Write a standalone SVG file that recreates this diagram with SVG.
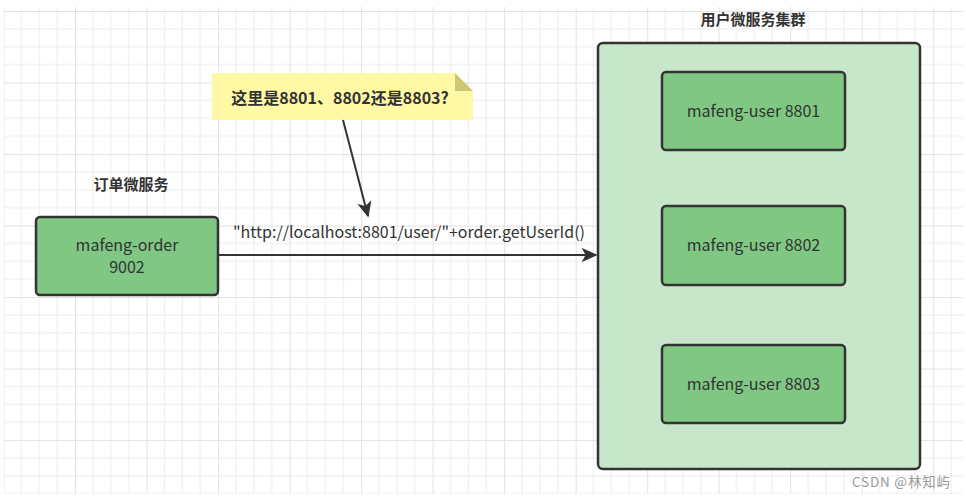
<svg xmlns="http://www.w3.org/2000/svg" width="966" height="499" viewBox="0 0 966 499">
<style>
.t{font-family:"Microsoft YaHei","Noto Sans CJK SC","Noto Sans",sans-serif;fill:#333;}
.node{fill:#7fc783;stroke:#333;stroke-width:2.5;}
.title{font-size:15px;font-weight:bold;text-anchor:middle;}
.lbl{font-size:16px;text-anchor:middle;}
.edge{stroke:#333;stroke-width:2;fill:none;}
</style>
<defs>
<pattern id="g" x="3.5" y="11" width="71.52" height="71.52" patternUnits="userSpaceOnUse">
<path d="M17.88 0V71.52M35.76 0V71.52M53.64 0V71.52M0 17.88H71.52M0 35.76H71.52M0 53.64H71.52" stroke="#ececec" stroke-width="1" fill="none"/>
<path d="M0.5 0V71.52M0 0.5H71.52" stroke="#e2e2e2" stroke-width="1" fill="none"/>
</pattern>
<marker id="ah2" viewBox="0 0 10 10" refX="9" refY="5" markerWidth="16" markerHeight="16" markerUnits="userSpaceOnUse" orient="auto">
<path d="M0 0.5L10 5L0 9.5L2.5 5Z" fill="#333"/>
</marker>
</defs>
<rect width="966" height="499" fill="#fff"/>
<rect x="4" y="7" width="959" height="487" fill="url(#g)"/>
<g id="cluster">
<rect x="598" y="43" width="322" height="426" rx="5" fill="#c8e6c9" stroke="#333" stroke-width="2.5"/>
<text class="t title" x="753" y="25">用户微服务集群</text>
</g>
<g id="order">
<text class="t title" x="131" y="190">订单微服务</text>
<rect class="node" x="36" y="217" width="182" height="78" rx="4"/>
<text class="t lbl" x="127" y="251">mafeng-order</text>
<text class="t lbl" x="127" y="273">9002</text>
</g>
<g id="user8801">
<rect class="node" x="662" y="72" width="183" height="78" rx="4"/>
<text class="t lbl" x="753.5" y="117">mafeng-user 8801</text>
</g>
<g id="user8802">
<rect class="node" x="662" y="206" width="183" height="79" rx="4"/>
<text class="t lbl" x="753.5" y="251">mafeng-user 8802</text>
</g>
<g id="user8803">
<rect class="node" x="662" y="345" width="183" height="78" rx="4"/>
<text class="t lbl" x="753.5" y="390">mafeng-user 8803</text>
</g>
<g id="note">
<path d="M212 73H455L473 91V120H212Z" fill="#fff9a5"/>
<path d="M455 73L473 91H455Z" fill="#cbc772"/>
<text class="t" x="340" y="104" font-size="16" font-weight="bold" text-anchor="middle">这里是8801、8802还是8803?</text>
</g>
<g id="connectors">
<line class="edge" x1="218" y1="255" x2="596" y2="255" marker-end="url(#ah2)"/>
<text class="t" x="409" y="238" font-size="16" text-anchor="middle">"http://localhost:8801/user/"+order.getUserId()</text>
<line class="edge" x1="343" y1="120" x2="368" y2="216" marker-end="url(#ah2)"/>
</g>
<text x="852" y="487" font-family="Microsoft YaHei,Noto Sans CJK SC,sans-serif" font-size="13.5" fill="#999" textLength="98" lengthAdjust="spacing">CSDN @林知屿</text>
</svg>
